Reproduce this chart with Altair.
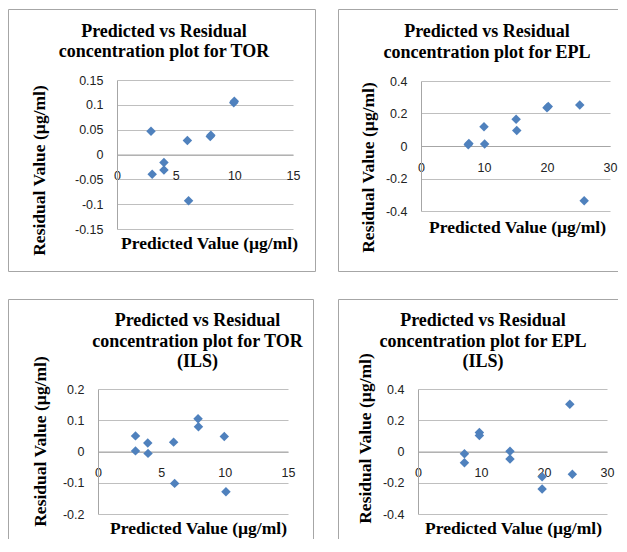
import altair as alt
import pandas as pd

# ---------------- data ----------------
tor_x = [2.9, 3.0, 4.0, 4.0, 6.0, 6.1, 7.95, 8.0, 9.95, 10.0]
tor_y = [0.047, -0.040, -0.016, -0.031, 0.028, -0.093, 0.036, 0.039, 0.104, 0.107]

epl_x = [7.5, 7.6, 10.0, 10.1, 15.1, 15.2, 20.0, 20.2, 25.2, 25.9]
epl_y = [0.008, 0.015, 0.118, 0.012, 0.165, 0.096, 0.235, 0.243, 0.253, -0.337]

tor_ils_x = [2.96, 2.96, 3.93, 3.95, 5.97, 6.05, 7.9, 7.93, 9.97, 10.1]
tor_ils_y = [0.050, 0.002, 0.027, -0.006, 0.030, -0.102, 0.105, 0.079, 0.048, -0.129]

epl_ils_x = [7.37, 7.37, 9.74, 9.74, 14.6, 14.6, 19.7, 19.7, 24.1, 24.5]
epl_ils_y = [-0.015, -0.072, 0.122, 0.103, 0.002, -0.048, -0.162, -0.240, 0.303, -0.145]

tor_xticks = [0, 5, 10, 15]
tor_yticks = [-0.15, -0.1, -0.05, 0, 0.05, 0.1, 0.15]
epl_xticks = [0, 10, 20, 30]
epl_yticks = [-0.4, -0.2, 0, 0.2, 0.4]
tor_ils_yticks = [-0.2, -0.1, 0, 0.1, 0.2]

titles = [
    ["Predicted vs Residual", "concentration plot for TOR"],
    ["Predicted vs Residual", "concentration plot for EPL"],
    ["Predicted vs Residual", "concentration plot for TOR", "(ILS)"],
    ["Predicted vs Residual", "concentration plot for EPL", "(ILS)"],
]
x_title = "Predicted Value (µg/ml)"
y_title = "Residual Value (µg/ml)"

SERIF = "Liberation Serif"
SANS = "Liberation Sans"
BORDER = "#a6a6a6"
MARKER = "#4f81bd"


def panel(xs, ys, xticks, yticks, title, W, H, plot, tx, ty, lh, ytitle, xtitle, borders):
    L, T, R, B = plot
    zero = (T + B) / 2
    df = pd.DataFrame({"x": xs, "y": ys})
    pts = alt.Chart(df).mark_point(shape="diamond", filled=True, size=90, color=MARKER, opacity=1).encode(
        x=alt.X("x:Q",
                scale=alt.Scale(domain=[xticks[0], xticks[-1]], range=[L, R], nice=False, zero=False),
                axis=alt.Axis(values=xticks, orient="bottom", offset=zero - H, grid=False, ticks=False,
                              domainColor=BORDER, labelFont=SANS, labelFontSize=12.5, labelColor="#222222",
                              labelPadding=15, labelFlush=False, labelOverlap=False,
                              labelExpr="datum.value + ''",
                              title=x_title, titleFont=SERIF, titleFontSize=17.5, titleFontWeight="bold",
                              titleColor="black", titleX=xtitle[0], titleY=xtitle[1] - zero,
                              titleBaseline="middle", titleAlign="center")),
        y=alt.Y("y:Q",
                scale=alt.Scale(domain=[yticks[0], yticks[-1]], range=[B, T], nice=False, zero=False),
                axis=alt.Axis(values=yticks, orient="left", offset=-L, grid=True, gridColor="#bfbfbf",
                              ticks=False, domainColor=BORDER, labelFont=SANS, labelFontSize=12.5,
                              labelColor="#222222", labelPadding=14, labelFlush=False, labelOverlap=False,
                              labelExpr="datum.value + ''",
                              title=y_title, titleFont=SERIF, titleFontSize=17.5, titleFontWeight="bold",
                              titleColor="black", titleX=ytitle[0] - L, titleY=ytitle[1],
                              titleBaseline="middle", titleAlign="center", titleAngle=270)),
    )
    one = pd.DataFrame({"a": [0]})
    layers = [pts]
    for (x1, y1, x2, y2) in borders:
        layers.append(
            alt.Chart(one).mark_rule(color=BORDER, strokeWidth=1).encode(
                x=alt.value(x1), x2=alt.value(x2), y=alt.value(y1), y2=alt.value(y2)
            )
        )
    for i, line in enumerate(title):
        layers.append(
            alt.Chart(one).mark_text(
                font=SERIF, fontSize=18, fontWeight="bold", color="black",
                align="center", baseline="middle",
            ).encode(x=alt.value(tx), y=alt.value(ty + lh * i), text=alt.value(line))
        )
    return alt.layer(*layers).properties(width=W, height=H)


# panel 1: TOR  (view = the panel's frame)
p1 = panel(tor_x, tor_y, tor_xticks, tor_yticks, titles[0], 308, 263,
           (109, 71, 285, 220), 156, 23, 20, (31, 161), (201, 234),
           [(0.5, 0.5, 307.5, 0.5), (0.5, 262.5, 307.5, 262.5),
            (0.5, 0.5, 0.5, 262.5), (307.5, 0.5, 307.5, 262.5)])

# panel 2: EPL
p2 = panel(epl_x, epl_y, epl_xticks, epl_yticks, titles[1], 280, 263,
           (83, 72, 272, 202), 149, 23, 20.5, (30, 158), (179, 218),
           [(0.5, 0.5, 280, 0.5), (0.5, 262.5, 280, 262.5), (0.5, 0.5, 0.5, 262.5)])

# panel 3: TOR (ILS)
p3 = panel(tor_ils_x, tor_ils_y, tor_xticks, tor_ils_yticks, titles[2], 308, 240,
           (90, 90, 280, 215), 189.5, 22, 20.5, (32, 142), (190, 229),
           [(0.5, 0.5, 305.5, 0.5), (0.5, 0.5, 0.5, 240), (305.5, 0.5, 305.5, 240)])

# panel 4: EPL (ILS)
p4 = panel(epl_ils_x, epl_ils_y, epl_xticks, epl_yticks, titles[3], 280, 240,
           (80, 90, 269, 215), 145, 22, 20.5, (27, 139), (175, 229),
           [(0.5, 0.5, 280, 0.5), (0.5, 0.5, 0.5, 240)])

chart = alt.concat(
    p1, p2, p3, p4,
    columns=2,
    spacing={"row": 27, "column": 22},
).properties(
    padding={"left": 0, "top": 1, "right": 0, "bottom": 0},
    background="white",
).configure_view(strokeWidth=0)

chart.save("out.html", embed_options={"renderer": "svg", "actions": False})
